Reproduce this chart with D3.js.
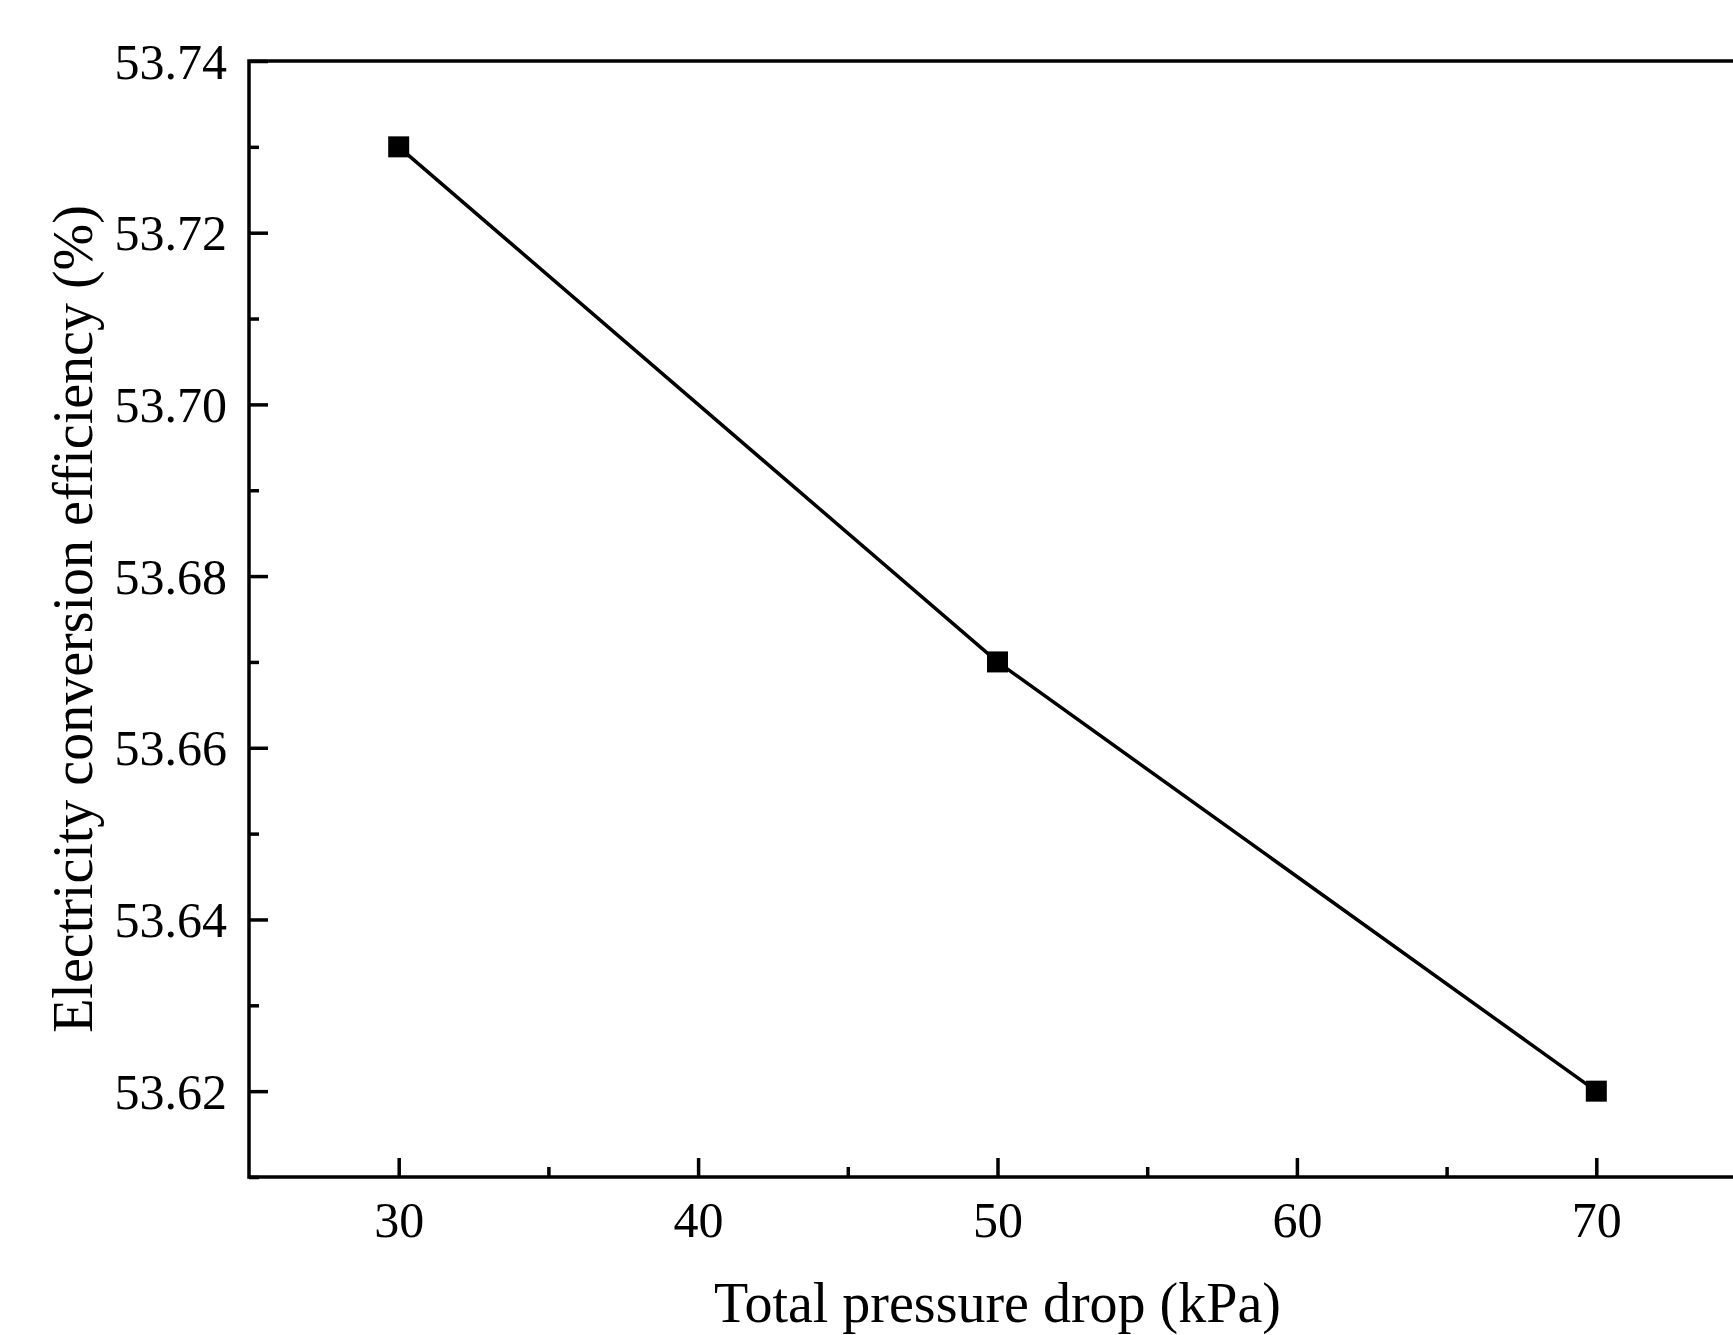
<!DOCTYPE html>
<html>
<head>
<meta charset="utf-8">
<script src="https://cdn.jsdelivr.net/npm/d3@7"></script>
<style>
html,body{margin:0;padding:0;background:#fff;}
svg{display:block;}
text{font-family:"Liberation Serif","Times New Roman",serif;fill:#000;}
</style>
</head>
<body>
<svg id="chart" width="1733" height="1335"></svg>
<script>
const pressureDrop = [30, 50, 70];
const efficiency = [53.73, 53.67, 53.62];
const xMajorTicks = [30, 40, 50, 60, 70];
const xMinorTicks = [35, 45, 55, 65];
const yMajorTicks = [53.62, 53.64, 53.66, 53.68, 53.70, 53.72, 53.74];
const yMinorTicks = [53.61, 53.63, 53.65, 53.67, 53.69, 53.71, 53.73];
const xTitle = "Total pressure drop (kPa)";
const yTitle = "Electricity conversion efficiency (%)";

(function () {
const svg = d3.select("#chart");
const pL = 249, pR = 1746, pT = 61, pB = 1177;
const sw = 3.5;

const x = d3.scaleLinear().domain([25, 75]).range([pL, pR]);
const y = d3.scaleLinear().domain([53.61, 53.74]).range([pB, pT]);

// frame
svg.append("rect")
  .attr("x", pL).attr("y", pT)
  .attr("width", pR - pL).attr("height", pB - pT)
  .attr("fill", "none").attr("stroke", "#000").attr("stroke-width", sw);

// x axis
const gx = svg.append("g").attr("transform", `translate(0,${pB})`);
gx.call(d3.axisBottom(x).tickValues(xMajorTicks).tickSize(-19).tickSizeOuter(0).tickPadding(0).tickFormat(d3.format("d")));
gx.select(".domain").remove();
gx.selectAll(".tick line").attr("stroke", "#000").attr("stroke-width", sw);
gx.selectAll(".tick text").attr("font-size", 50).attr("dy", null).attr("y", 60)
  .attr("font-family", '"Liberation Serif","Times New Roman",serif');
const gxm = svg.append("g").attr("transform", `translate(0,${pB})`);
gxm.call(d3.axisBottom(x).tickValues(xMinorTicks).tickSize(-10).tickSizeOuter(0).tickFormat(""));
gxm.select(".domain").remove();
gxm.selectAll(".tick line").attr("stroke", "#000").attr("stroke-width", sw);

// y axis
const gy = svg.append("g").attr("transform", `translate(${pL},0)`);
gy.call(d3.axisLeft(y).tickValues(yMajorTicks).tickSize(-19).tickSizeOuter(0).tickPadding(22).tickFormat(d3.format(".2f")));
gy.select(".domain").remove();
gy.selectAll(".tick line").attr("stroke", "#000").attr("stroke-width", sw);
gy.selectAll(".tick text").attr("font-size", 50).attr("x", -22).attr("dy", "0.34em")
  .attr("font-family", '"Liberation Serif","Times New Roman",serif');
const gym = svg.append("g").attr("transform", `translate(${pL},0)`);
gym.call(d3.axisLeft(y).tickValues(yMinorTicks).tickSize(-10).tickSizeOuter(0).tickFormat(""));
gym.select(".domain").remove();
gym.selectAll(".tick line").attr("stroke", "#000").attr("stroke-width", sw);

// data
const data = pressureDrop.map((p, i) => ({x: p, y: efficiency[i]}));
svg.append("path").datum(data)
  .attr("fill", "none").attr("stroke", "#000").attr("stroke-width", 3.5)
  .attr("d", d3.line().x(d => x(d.x)).y(d => y(d.y)));
const s = 21;
svg.selectAll("rect.pt").data(data).enter().append("rect")
  .attr("class", "pt")
  .attr("x", d => x(d.x) - s / 2).attr("y", d => y(d.y) - s / 2)
  .attr("width", s).attr("height", s).attr("fill", "#000");

// titles
svg.append("text").attr("x", (pL + pR) / 2).attr("y", 1322)
  .attr("text-anchor", "middle").attr("font-size", 56).text(xTitle);
svg.append("text")
  .attr("transform", `translate(92,${(pT + pB) / 2}) rotate(-90)`)
  .attr("text-anchor", "middle").attr("font-size", 56).text(yTitle);
})();
</script>
</body>
</html>
